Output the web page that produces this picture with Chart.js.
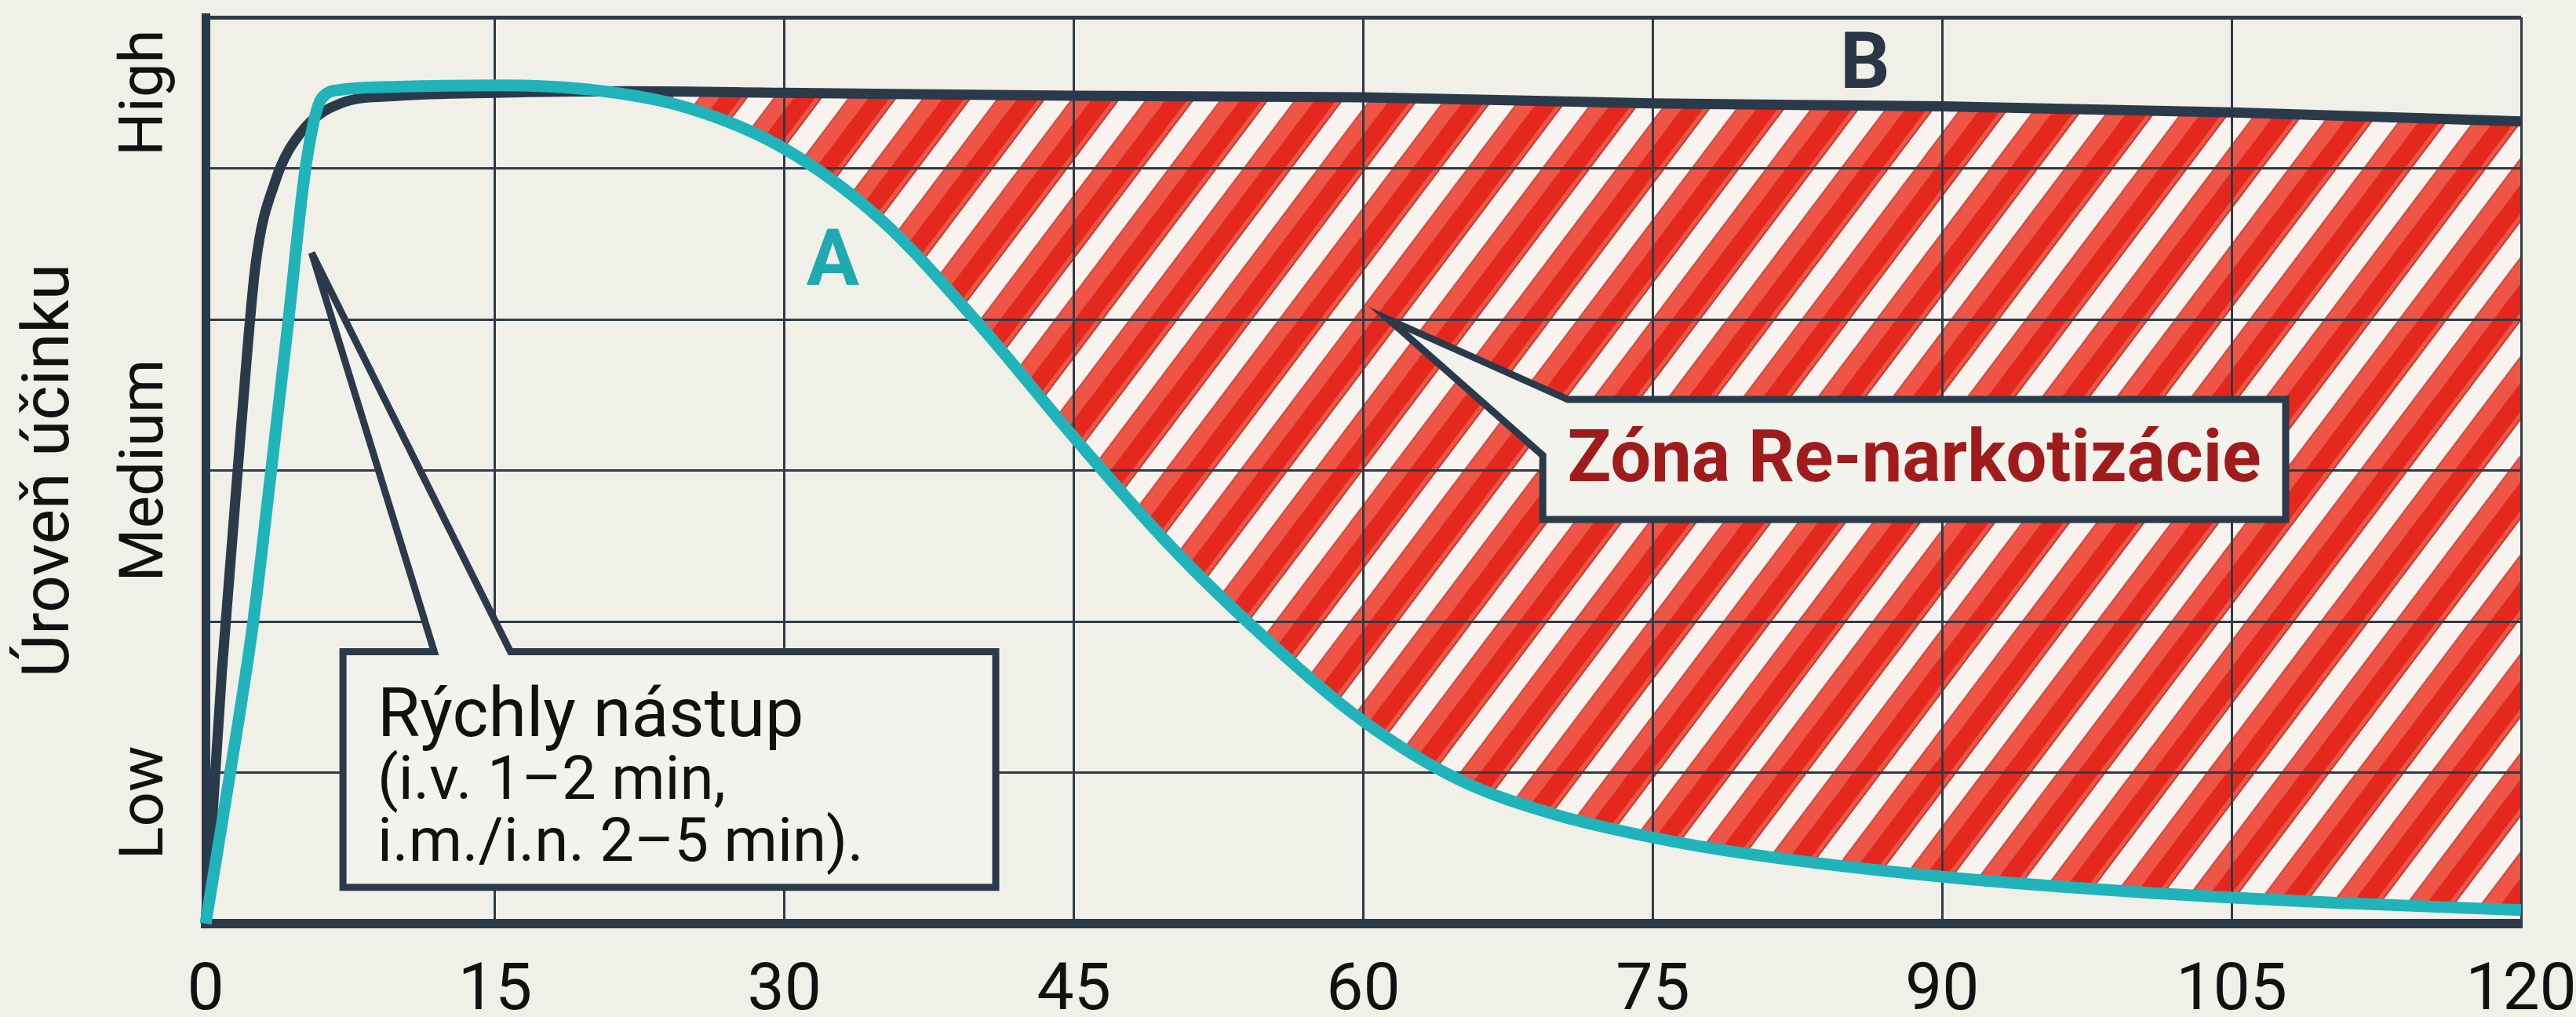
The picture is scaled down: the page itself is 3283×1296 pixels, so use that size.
<!DOCTYPE html>
<html lang="sk">
<head>
<meta charset="UTF-8">
<title>Úroveň účinku</title>
<script src="https://cdn.jsdelivr.net/npm/chart.js"></script>
<style>
    body {
        margin: 0;
        background-color: #f0f0e9;
    }
    #wrap {
        width: 3283px;
        height: 1296px;
    }
</style>
</head>
<body>
<div id="wrap"><canvas id="graf" width="3283" height="1296"></canvas></div>
<script>
    // data (minutes, effect level 0..6)
    const xTicks = [0, 15, 30, 45, 60, 75, 90, 105, 120];
    const levelNames = ['Low', 'Medium', 'High'];
    const levelValues = [0.8, 3, 5.5];

    const timeA = [0, 1.25, 2.45, 3.4, 4.3, 5.2, 6, 7, 10, 15, 20, 25, 30, 35, 40, 45, 50, 55, 60, 65, 70, 75, 80, 90, 100, 110, 120];
    const effectA = [0, 0.98, 1.98, 3.0, 4.0, 5.02, 5.46, 5.52, 5.54, 5.55, 5.52, 5.4, 5.13, 4.66, 3.98, 3.22, 2.5, 1.88, 1.34, 0.95, 0.72, 0.57, 0.46, 0.31, 0.21, 0.14, 0.09];

    const timeB = [0, 0.85, 1.8, 2.6, 3.6, 4.9, 7, 10, 15, 22, 30, 45, 60, 75, 90, 105, 120];
    const effectB = [0, 1.68, 3.22, 4.37, 4.91, 5.23, 5.43, 5.48, 5.5, 5.51, 5.5, 5.48, 5.47, 5.43, 5.41, 5.37, 5.31];

    const zoneStart = 22; // hatch starts where B leaves A

    const navy = '#2b3a4a';
    const teal = '#20b3ba';
    const fontFam = 'Roboto, "Noto Sans", sans-serif';

    const pointsA = timeA.map((t, i) => ({ x: t, y: effectA[i] }));
    const pointsB = timeB.map((t, i) => ({ x: t, y: effectB[i] }));
    const pointsZone = pointsB.filter(p => p.x >= zoneStart);

    const canvas = document.getElementById('graf');
    const ctx = canvas.getContext('2d');

    // striped red hatch
    function makeHatch() {
        const P = 76;
        const tile = document.createElement('canvas');
        tile.width = P;
        tile.height = 4;
        const c = tile.getContext('2d');
        c.fillStyle = '#f8f3ee';
        c.fillRect(0, 0, P, 4);
        c.fillStyle = '#ee5547';
        c.fillRect(27, 0, 49, 4);
        c.fillStyle = '#e4281e';
        c.fillRect(47, 0, 22, 4);
        c.fillStyle = 'rgba(150,30,25,0.5)';
        c.fillRect(26, 0, 2, 4);
        c.fillRect(74, 0, 2, 4);
        const pat = ctx.createPattern(tile, 'repeat');
        pat.setTransform(new DOMMatrix().rotate(37));
        return pat;
    }

    // y level names, rotated
    const levelLabels = {
        id: 'levelLabels',
        afterDraw(chart) {
            const y = chart.scales.y;
            const c = chart.ctx;
            c.save();
            c.font = '78px ' + fontFam;
            c.fillStyle = '#111';
            c.textAlign = 'center';
            c.textBaseline = 'middle';
            levelNames.forEach((name, i) => {
                c.save();
                c.translate(187, y.getPixelForValue(levelValues[i]));
                c.rotate(-Math.PI / 2);
                c.fillText(name, 0, 0);
                c.restore();
            });
            c.restore();
        }
    };

    // callout boxes and curve letters
    const notes = {
        id: 'notes',
        afterDraw(chart) {
            const xs = chart.scales.x, ys = chart.scales.y;
            const px = v => xs.getPixelForValue(v);
            const py = v => ys.getPixelForValue(v);
            const c = chart.ctx;

            function shape(pts) {
                c.beginPath();
                pts.forEach((p, i) => {
                    const X = px(p[0]), Y = py(p[1]);
                    if (i === 0) c.moveTo(X, Y); else c.lineTo(X, Y);
                });
                c.closePath();
                c.fillStyle = '#f3f3ee';
                c.fill();
                c.lineWidth = 9;
                c.strokeStyle = navy;
                c.lineJoin = 'miter';
                c.stroke();
            }

            c.save();
            // box 1
            const b1 = { l: 7.12, r: 40.95, t: 1.8, b: 0.24 };
            shape([[11.85, b1.t], [5.5, 4.44], [15.8, b1.t], [b1.r, b1.t], [b1.r, b1.b], [b1.l, b1.b], [b1.l, b1.t]]);
            c.fillStyle = '#111';
            c.textAlign = 'left';
            c.textBaseline = 'alphabetic';
            const tx = px(b1.l) + 44, ty = py(b1.t);
            c.font = '88px ' + fontFam;
            c.fillText('Rýchly nástup', tx, ty + 107);
            c.font = '78px ' + fontFam;
            c.fillText('(i.v. 1–2 min,', tx, ty + 187);
            c.fillText('i.m./i.n. 2–5 min).', tx, ty + 266);

            // box 2
            const b2 = { l: 69.3, r: 107.8, t: 3.47, b: 2.675 };
            shape([[61.3, 4.0], [70.6, b2.t], [b2.r, b2.t], [b2.r, b2.b], [b2.l, b2.b], [b2.l, 3.1]]);
            c.fillStyle = '#a01c1c';
            c.font = 'bold 92px ' + fontFam;
            c.textAlign = 'center';
            c.textBaseline = 'middle';
            c.fillText('Zóna Re-narkotizácie', (px(b2.l) + px(b2.r)) / 2, (py(b2.t) + py(b2.b)) / 2 + 4);

            // curve letters
            c.font = 'bold 100px ' + fontFam;
            c.fillStyle = '#1fa9b0';
            c.fillText('A', px(32.5), py(4.36));
            c.fillStyle = '#2a3646';
            c.fillText('B', px(86), py(5.66));
            c.restore();
        }
    };

    new Chart(ctx, {
        type: 'line',
        data: {
            datasets: [
                {
                    label: 'Zóna',
                    data: pointsZone,
                    borderWidth: 0,
                    borderColor: 'rgba(0,0,0,0)',
                    pointRadius: 0,
                    cubicInterpolationMode: 'monotone',
                    fill: { target: 1, above: makeHatch(), below: 'rgba(0,0,0,0)' }
                },
                {
                    label: 'A',
                    data: pointsA,
                    borderColor: teal,
                    borderWidth: 15,
                    pointRadius: 0,
                    cubicInterpolationMode: 'monotone',
                    fill: false,
                    clip: false
                },
                {
                    label: 'B',
                    data: pointsB,
                    borderColor: navy,
                    borderWidth: 13,
                    pointRadius: 0,
                    cubicInterpolationMode: 'monotone',
                    fill: false,
                    clip: false
                }
            ]
        },
        options: {
            responsive: false,
            animation: false,
            events: [],
            layout: { padding: { top: 22, right: 70, bottom: 0, left: 0 } },
            plugins: {
                legend: { display: false },
                tooltip: { enabled: false },
                filler: { drawTime: 'beforeDraw' }
            },
            scales: {
                x: {
                    type: 'linear',
                    min: 0,
                    max: 120,
                    afterBuildTicks: s => { s.ticks = xTicks.map(v => ({ value: v })); },
                    afterFit: s => { s.height = 119; s.paddingRight = 0; s.paddingLeft = 0; },
                    grid: { color: '#2f3b47', lineWidth: 3, drawTicks: false },
                    border: { display: true, color: navy, width: 12 },
                    ticks: {
                        color: '#111',
                        padding: 38,
                        font: { family: fontFam, size: 84 },
                        maxRotation: 0
                    }
                },
                y: {
                    min: 0,
                    max: 6,
                    ticks: { stepSize: 1, display: false },
                    afterFit: s => { s.width = 262; },
                    grid: {
                        color: '#2f3b47',
                        lineWidth: c => (c.tick && c.tick.value === 6 ? 5 : 3),
                        drawTicks: false
                    },
                    border: { display: true, color: navy, width: 11 },
                    title: {
                        display: true,
                        text: 'Úroveň účinku',
                        color: '#111',
                        font: { family: fontFam, size: 84 },
                        padding: { top: 16, bottom: 0 }
                    }
                }
            }
        },
        plugins: [levelLabels, notes]
    });
</script>
</body>
</html>
